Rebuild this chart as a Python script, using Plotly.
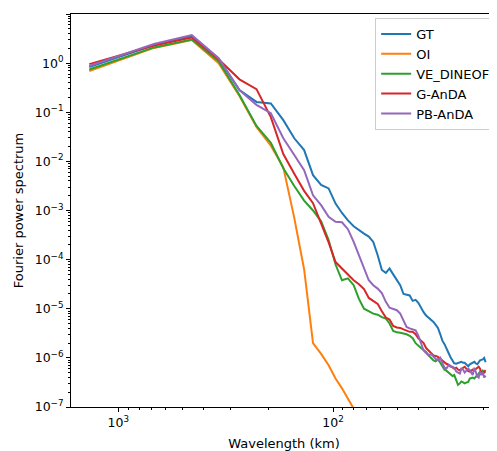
import plotly.graph_objects as go

# Wavelength (km) for wavenumber indices 1..70
wavelength_km = [1364, 682, 454.7, 341, 272.8, 227.3, 194.9, 170.5, 151.6, 136.4,
                 124.0, 113.7, 104.9, 97.4, 90.9, 85.3, 80.2, 75.8, 71.8, 68.2,
                 65.0, 62.0, 59.3, 56.8, 54.6, 52.5, 50.5, 48.7, 47.0, 45.5,
                 44.0, 42.6, 41.3, 40.1, 39.0, 37.9, 36.9, 35.9, 35.0, 34.1,
                 33.3, 32.5, 31.7, 31.0, 30.3, 29.7, 29.0, 28.4, 27.8, 27.3,
                 26.7, 26.2, 25.7, 25.3, 24.8, 24.4, 23.9, 23.5, 23.1, 22.7,
                 22.4, 22.0, 21.7, 21.3, 21.0, 20.7, 20.4, 20.1, 19.8, 19.5]

# log10 of the Fourier power spectrum
gt_log = [-0.08, 0.37, 0.55, 0.09, -0.55, -0.79, -0.82, -1.16, -1.53, -1.77,
          -2.28, -2.48, -2.55, -2.86, -3.05, -3.20, -3.32, -3.40, -3.47, -3.53,
          -3.64, -3.91, -4.21, -4.27, -4.18, -4.30, -4.42, -4.52, -4.70, -4.72,
          -4.73, -4.84, -4.82, -4.88, -4.99, -5.07, -5.14, -5.18, -5.22, -5.27,
          -5.33, -5.39, -5.52, -5.65, -5.72, -5.79, -5.90, -5.99, -6.06, -6.11,
          -6.12, -6.10, -6.09, -6.08, -6.10, -6.10, -6.14, -6.17, -6.13, -6.11,
          -6.09, -6.08, -6.11, -6.13, -6.09, -6.05, -6.04, -6.03, -6.00, -6.09]
oi_log = [-0.16, 0.31, 0.47, 0.00, -0.67, -1.30, -1.68, -2.12, -3.15, -4.20,
          -5.70, -5.92, -6.15, -6.42, -6.62, -6.82, -7.03, -7.22, -7.40, -7.58]
ve_dineof_log = [-0.13, 0.32, 0.48, 0.04, -0.65, -1.28, -1.62, -2.14, -2.50, -2.80,
                 -3.00, -3.22, -3.60, -4.10, -4.42, -4.38, -4.52, -4.80, -5.00, -5.05,
                 -5.10, -5.12, -5.17, -5.20, -5.30, -5.45, -5.48, -5.49, -5.50, -5.52,
                 -5.55, -5.60, -5.70, -5.76, -5.80, -5.84, -5.88, -5.95, -6.00, -6.05,
                 -6.07, -6.03, -6.10, -6.18, -6.24, -6.26, -6.30, -6.34, -6.37, -6.35,
                 -6.45, -6.55, -6.52, -6.48, -6.50, -6.52, -6.50, -6.49, -6.42, -6.40,
                 -6.40, -6.42, -6.39, -6.37, -6.32, -6.28, -6.30, -6.26, -6.30, -6.28]
g_anda_log = [-0.02, 0.36, 0.52, 0.08, -0.33, -0.53, -1.10, -1.85, -2.25, -2.60,
              -2.85, -3.25, -3.65, -4.05, -4.18, -4.30, -4.42, -4.50, -4.60, -4.78,
              -4.84, -4.90, -5.05, -5.18, -5.22, -5.35, -5.38, -5.39, -5.42, -5.45,
              -5.47, -5.47, -5.52, -5.60, -5.65, -5.70, -5.80, -5.85, -5.90, -5.95,
              -5.96, -5.98, -6.02, -6.06, -6.10, -6.12, -6.14, -6.17, -6.19, -6.22,
              -6.20, -6.24, -6.25, -6.22, -6.20, -6.18, -6.24, -6.27, -6.28, -6.26,
              -6.24, -6.25, -6.22, -6.20, -6.18, -6.22, -6.30, -6.32, -6.28, -6.25]
pb_anda_log = [-0.06, 0.39, 0.57, 0.10, -0.55, -0.85, -1.02, -1.53, -1.87, -2.18,
               -2.69, -2.89, -3.13, -3.23, -3.24, -3.38, -3.64, -3.91, -4.15, -4.42,
               -4.52, -4.59, -4.68, -4.86, -4.98, -5.00, -5.03, -5.10, -5.25, -5.37,
               -5.40, -5.42, -5.44, -5.55, -5.70, -5.85, -5.90, -5.95, -5.92, -5.98,
               -6.02, -6.05, -6.00, -6.10, -6.20, -6.22, -6.15, -6.18, -6.18, -6.20,
               -6.28, -6.30, -6.32, -6.22, -6.24, -6.30, -6.25, -6.22, -6.25, -6.32,
               -6.35, -6.20, -6.30, -6.38, -6.40, -6.28, -6.35, -6.30, -6.40, -6.36]

series_names = ["GT", "OI", "VE_DINEOF", "G-AnDA", "PB-AnDA"]
series_logs = [gt_log, oi_log, ve_dineof_log, g_anda_log, pb_anda_log]
colors = ["#1f77b4", "#ff7f0e", "#2ca02c", "#d62728", "#9467bd"]

y_tick_vals = [10.0 ** e for e in range(-7, 2)]
y_tick_text = ["10<sup>%s</sup>" % (str(e).replace("-", "\u2212")) for e in range(-7, 2)]
x_tick_vals = [100, 1000]
x_tick_text = ["10<sup>2</sup>", "10<sup>3</sup>"]

fig = go.Figure()
for name, logs, c in zip(series_names, series_logs, colors):
    fig.add_trace(go.Scatter(
        x=wavelength_km[:len(logs)], y=[10.0 ** v for v in logs],
        mode="lines", name=name, line=dict(color=c, width=2)))

y_minor = [m * 10.0 ** e for e in range(-7, 1) for m in range(2, 10)]
x_minor = [m * 10 for m in range(2, 10)] + [m * 100 for m in range(2, 10)]

font = "DejaVu Sans"
fig.update_layout(
    width=489, height=443,
    margin=dict(l=63, r=0, t=6, b=44, autoexpand=False),
    plot_bgcolor="white", paper_bgcolor="white",
    font=dict(family=font, size=12.5, color="black"),
    showlegend=True,
    legend=dict(x=0.714, y=0.99, xanchor="left", yanchor="top",
                bgcolor="rgba(255,255,255,0.8)", bordercolor="#cccccc", borderwidth=1,
                font=dict(size=13), tracegroupgap=0),
    xaxis=dict(type="log", range=[3.22, 1.237], showgrid=False, zeroline=False,
               automargin=False,
               showline=True, linecolor="black", linewidth=1, mirror=True,
               ticks="outside", ticklen=4, tickcolor="black",
               tickmode="array", tickvals=x_tick_vals, ticktext=x_tick_text,
               minor=dict(tickmode="array", tickvals=x_minor, ticks="outside",
                          ticklen=2, tickcolor="black", showgrid=False),
               title=dict(text="Wavelength (km)", standoff=12, font=dict(size=13))),
    yaxis=dict(type="log", range=[-7, 1], showgrid=False, zeroline=False,
               automargin=False,
               showline=True, linecolor="black", linewidth=1,
               ticks="outside", ticklen=4, tickcolor="black",
               tickmode="array", tickvals=y_tick_vals, ticktext=y_tick_text,
               minor=dict(tickmode="array", tickvals=y_minor, ticks="outside",
                          ticklen=2, tickcolor="black", showgrid=False),
               title=dict(text="Fourier power spectrum", standoff=8, font=dict(size=13))),
)

fig.write_html("out.html")
